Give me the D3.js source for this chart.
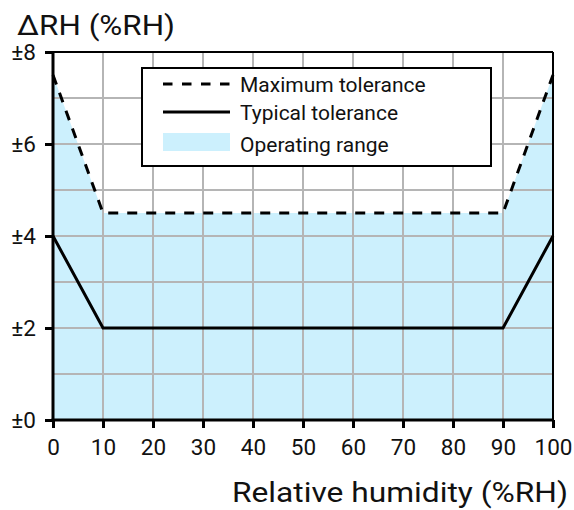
<!DOCTYPE html>
<html><head><meta charset="utf-8">
<script src="https://cdn.jsdelivr.net/npm/d3@7"></script>
<style>body{margin:0;background:#fff}svg{display:block;font-family:Roboto,sans-serif}</style>
</head><body><svg id="c" width="574" height="510"></svg>
<script>
const humidity = [0, 10, 90, 100];
const maxTolerance = [7.5, 4.5, 4.5, 7.5];
const typTolerance = [4, 2, 2, 4];
const xTicks = [0,10,20,30,40,50,60,70,80,90,100];
const yTicks = [0,2,4,6,8];
const yTickLabels = ["±0","±2","±4","±6","±8"];
const legendLabels = ["Maximum tolerance","Typical tolerance","Operating range"];
const xTitle = "Relative humidity (%RH)";
const yTitle = "ΔRH (%RH)";

const svg = d3.select("#c");
const x = d3.scaleLinear().domain([0,100]).range([53,553]);
const y = d3.scaleLinear().domain([0,8]).range([420,52]);
const fillCol = "#ccf0fd", gridCol = "#b5b5b5";

const maxData = humidity.map((h,i)=>({h, v:maxTolerance[i]}));
const typData = humidity.map((h,i)=>({h, v:typTolerance[i]}));

svg.append("path").datum(maxData)
  .attr("d", d3.area().x(d=>x(d.h)).y0(y(0)).y1(d=>y(d.v)))
  .attr("fill", fillCol);

const g = svg.append("g");
g.selectAll("line.v").data(xTicks.slice(1,-1)).join("line")
  .attr("x1",d=>x(d)).attr("x2",d=>x(d)).attr("y1",y(0)).attr("y2",y(8))
  .attr("stroke",gridCol).attr("stroke-width",2);
g.selectAll("line.h").data(d3.range(1,8)).join("line")
  .attr("y1",d=>y(d)).attr("y2",d=>y(d)).attr("x1",x(0)).attr("x2",x(100))
  .attr("stroke",gridCol).attr("stroke-width",2);

const line = d3.line().x(d=>x(d.h)).y(d=>y(d.v));
svg.append("path").datum(typData).attr("d",line).attr("fill","none")
  .attr("stroke","#000").attr("stroke-width",3);
svg.append("path").datum(maxData).attr("d",line).attr("fill","none")
  .attr("stroke","#000").attr("stroke-width",3).attr("stroke-dasharray","10,9");

svg.append("line").attr("x1",x(0)).attr("x2",x(100)).attr("y1",y(8)).attr("y2",y(8)).attr("stroke","#000").attr("stroke-width",2);
svg.append("line").attr("x1",x(100)).attr("x2",x(100)).attr("y1",y(8)).attr("y2",y(0)).attr("stroke","#000").attr("stroke-width",2);

const xAxis = svg.append("g").attr("transform",`translate(0,${y(0)})`)
  .call(d3.axisBottom(x).tickValues(xTicks).tickSize(8).tickPadding(11));
const yAxis = svg.append("g").attr("transform",`translate(${x(0)},0)`)
  .call(d3.axisLeft(y).tickValues(yTicks).tickFormat((d,i)=>yTickLabels[i]).tickSize(8).tickPadding(9));
[xAxis,yAxis].forEach(a=>{
  a.attr("font-size",null).attr("font-family",null);
  a.select(".domain").attr("stroke","#000").attr("stroke-width",3);
  a.selectAll(".tick line").attr("stroke","#000").attr("stroke-width",3);
  a.selectAll(".tick text").style("font-size","22.5px").attr("fill","#111").style("font-family","Roboto");
});
xAxis.select(".domain").attr("d",`M${x(0)-1.5},0H${x(100)+1}`);
yAxis.select(".domain").attr("d",`M0,${y(0)+1.5}V${y(8)-1}`);

svg.append("text").attr("x",17).attr("y",35).style("font-size","27px").attr("fill","#111")
  .attr("textLength",158).attr("lengthAdjust","spacingAndGlyphs").text(yTitle);
svg.append("text").attr("x",232).attr("y",502).style("font-size","27px").attr("fill","#111")
  .attr("textLength",336).attr("lengthAdjust","spacingAndGlyphs").text(xTitle);

const lg = svg.append("g");
lg.append("rect").attr("x",142).attr("y",68).attr("width",349).attr("height",98)
  .attr("fill","#fff").attr("stroke","#000").attr("stroke-width",2);
lg.append("line").attr("x1",163).attr("x2",230).attr("y1",84).attr("y2",84)
  .attr("stroke","#000").attr("stroke-width",3).attr("stroke-dasharray","9.5,9.5");
lg.append("line").attr("x1",163).attr("x2",230).attr("y1",112).attr("y2",112)
  .attr("stroke","#000").attr("stroke-width",3);
lg.append("rect").attr("x",163).attr("y",133).attr("width",67).attr("height",18).attr("fill",fillCol);
lg.selectAll("text.l").data(legendLabels).join("text")
  .attr("x",240).attr("y",(d,i)=>[85,113,145][i]).attr("dy","0.35em")
  .style("font-size","21px").attr("fill","#111").text(d=>d);
</script></body></html>
